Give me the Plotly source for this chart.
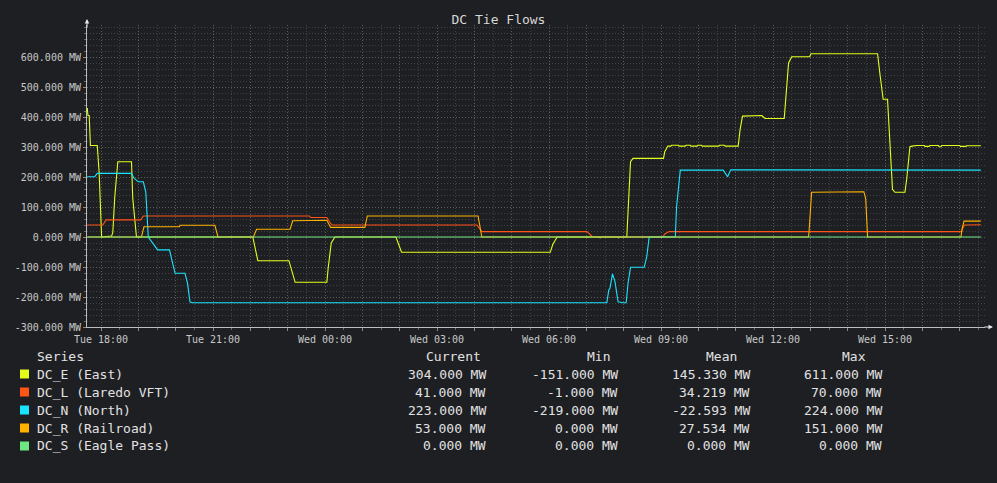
import datetime as dt

import plotly.graph_objects as go

BG = "#1e1f22"
BASE_DAY = dt.date(2024, 1, 2)  # a Tuesday

series_names = ["DC_E (East)", "DC_L (Laredo VFT)", "DC_N (North)", "DC_R (Railroad)", "DC_S (Eagle Pass)"]
series_colors = ["#e4ff1a", "#ff5516", "#1ae4ff", "#ffb300", "#6ee882"]

e_times = ["17:38", "17:39", "17:41", "17:43", "17:54", "17:57", "18:01", "18:17", "18:19", "18:22", "18:27", "18:49", "18:51", "18:57",
           "22:04", "22:09", "22:12", "23:02", "23:07", "23:12", "00:03", "00:05", "00:10", "00:16", "01:54", "01:58", "02:03", "06:02", "06:06", "06:13",
           "07:20", "07:22", "07:24", "07:50", "07:52", "07:54", "08:05", "08:11", "08:15", "09:04", "09:06", "09:11",
           "09:16", "09:17", "09:28", "09:29", "09:39", "09:40", "09:47", "09:48", "09:58", "09:59", "10:05", "10:06", "10:14", "10:15", "10:23", "10:24", "10:33", "10:34", "10:42", "10:43",
           "11:04", "11:07", "11:11", "11:42", "11:47", "12:18", "12:22", "12:25", "12:30", "12:59", "13:01", "14:48", "14:52", "14:57", "15:04", "15:08", "15:12", "15:16", "15:32", "15:35", "15:40",
           "15:43", "15:51", "16:03", "16:04", "16:11", "16:12", "16:26", "16:27", "16:30", "16:31", "17:00", "17:01", "17:10", "17:11", "17:34"]
e_values = [430, 405, 405, 305, 305, 215, 0, 3, 15, 130, 251, 251, 130, 0,
            0, -43, -79, -79, -116, -151, -151, -105, -20, 0, 0, -23, -51, -51, -25, 0,
            0, -3, 0, 0, -3, 0, 0, 251, 262, 262, 284, 303,
            303, 306, 306, 303, 303, 306, 306, 303, 303, 306, 306, 303, 303, 305, 305, 303, 303, 306, 306, 303,
            303, 357, 403, 405, 395, 395, 495, 580, 601, 601, 611, 611, 540, 459, 459, 301, 159, 149, 149, 196, 301,
            303, 305, 305, 302, 302, 305, 305, 301, 301, 305, 305, 302, 302, 304, 304]

l_times = ["17:38", "18:03", "18:08", "19:04", "19:08", "23:35", "23:37", "00:03", "00:06", "00:11", "04:04", "04:12",
           "07:01", "07:06", "07:11", "07:14", "09:03", "09:06", "09:13", "17:03", "17:05", "17:08", "17:34"]
l_values = [40, 40, 57, 57, 70, 70, 65, 65, 55, 40, 40, 18,
            18, 8, -1, 0, 0, 10, 18, 18, 30, 40, 41]

n_times = ["17:38", "17:50", "17:54", "18:49", "18:53", "19:00", "19:08", "19:12", "19:16", "19:24",
           "19:31", "19:50", "19:54", "19:59", "20:15", "20:19", "20:23", "20:26",
           "07:33", "07:36", "07:38", "07:42", "07:46", "07:51", "07:59", "08:04",
           "08:07", "08:11", "08:33", "08:37", "08:41", "09:23", "09:25", "09:31", "10:40", "10:47", "10:52", "17:34"]
n_values = [201, 201, 212, 212, 196, 184, 184, 150, 0, -21,
            -43, -43, -82, -121, -121, -154, -216, -219,
            -219, -177, -170, -123, -149, -216, -219, -219,
            -154, -101, -101, -66, 0, 0, 101, 223, 223, 201, 224, 223]

r_times = ["17:38", "19:05", "19:09", "20:06", "20:07", "21:03", "21:08", "22:05", "22:10", "23:04", "23:08",
           "00:03", "00:09", "01:04", "01:08", "04:06", "04:12", "12:57", "12:58", "13:02", "14:26", "14:29", "14:32",
           "17:02", "17:04", "17:07", "17:34"]
r_values = [0, 0, 34, 34, 39, 39, 0, 0, 26, 26, 54,
            56, 32, 32, 70, 70, 0, 0, 20, 149, 151, 126, 0,
            0, 29, 53, 53]

s_times = ["17:38", "17:34"]
s_values = [0, 0]

stat_headers = ["Current", "Min", "Mean", "Max"]
stat_current = ["304.000 MW", "41.000 MW", "223.000 MW", "53.000 MW", "0.000 MW"]
stat_min = ["-151.000 MW", "-1.000 MW", "-219.000 MW", "0.000 MW", "0.000 MW"]
stat_mean = ["145.330 MW", "34.219 MW", "-22.593 MW", "27.534 MW", "0.000 MW"]
stat_max = ["611.000 MW", "70.000 MW", "224.000 MW", "151.000 MW", "0.000 MW"]

y_tick_vals = [-300, -200, -100, 0, 100, 200, 300, 400, 500, 600]


def to_datetimes(times):
    # times run forward from Tue evening; a smaller clock time means next day
    out = []
    day = BASE_DAY
    prev = None
    for s in times:
        h, m = map(int, s.split(":"))
        t = dt.time(h, m)
        if prev is not None and t < prev:
            day += dt.timedelta(days=1)
        prev = t
        out.append(dt.datetime.combine(day, t))
    return out


# plot area in pixels, used to place the legend table under the chart
L, R, T, B = 87, 985, 25, 327


def px(x):
    return (x - L) / (R - L)


def py(y):
    return (B - y) / (B - T)


fig = go.Figure()
all_series = [(e_times, e_values), (l_times, l_values), (n_times, n_values), (r_times, r_values), (s_times, s_values)]
for (times, values), name, color in zip(all_series, series_names, series_colors):
    fig.add_trace(go.Scatter(x=to_datetimes(times), y=values, name=name, mode="lines",
                             line=dict(color=color, width=1.1), showlegend=False))

start = dt.datetime.combine(BASE_DAY, dt.time(18, 0))
hour_ticks = [start + dt.timedelta(hours=i) for i in range(24)]
hour_text = [t.strftime("%a %H:%M") if t.hour % 3 == 0 else "" for t in hour_ticks]

fig.update_layout(
    width=997, height=483,
    paper_bgcolor=BG, plot_bgcolor=BG,
    margin=dict(l=L, r=997 - R, t=T, b=483 - B),
    font=dict(family="DejaVu Sans Mono", size=10, color="#c8c8c8"),
    showlegend=False,
    title=dict(text="DC Tie Flows", x=0.5, xanchor="center", y=1 - 19 / 483, yanchor="middle",
               font=dict(size=13, color="#d8d8d8")),
    xaxis=dict(
        range=["2024-01-02 17:37:30", "2024-01-03 17:40:40"],
        tickmode="array", tickvals=hour_ticks, ticktext=hour_text,
        showgrid=True, gridcolor="#5c5c5c", griddash="1px,2px", gridwidth=1,
        showline=True, linecolor="#bdbdbd", linewidth=1, zeroline=False,
        ticks="outside", ticklen=3, tickcolor="#8a8a8a",
        minor=dict(dtick=1800000, tick0="2024-01-02 17:30", showgrid=True, gridcolor="#404145",
                   griddash="1px,2px", ticks="outside", ticklen=2, tickcolor="#6a6a6a"),
    ),
    yaxis=dict(
        range=[-300, 706.7],
        tickmode="array", tickvals=y_tick_vals, ticktext=[f"{v:.3f} MW" for v in y_tick_vals],
        showgrid=True, gridcolor="#5c5c5c", griddash="1px,2px", gridwidth=1,
        showline=True, linecolor="#bdbdbd", linewidth=1, zeroline=False,
        ticks="outside", ticklen=3, tickcolor="#8a8a8a",
        minor=dict(dtick=20, tick0=0, showgrid=True, gridcolor="#404145",
                   griddash="1px,2px", ticks="outside", ticklen=2, tickcolor="#6a6a6a"),
    ),
)

# axis arrows
fig.add_annotation(x=0, y=py(19), xref="paper", yref="paper", text="", showarrow=True,
                   ax=0, ay=10, arrowhead=2, arrowsize=0.9, arrowwidth=1, arrowcolor="#e6e6e6")
fig.add_annotation(x=px(993), y=0, xref="paper", yref="paper", text="", showarrow=True,
                   ax=-10, ay=0, arrowhead=2, arrowsize=0.9, arrowwidth=1, arrowcolor="#e6e6e6")

# legend table
legend_font = dict(family="DejaVu Sans Mono", size=13, color="#e2e2e2")
row_y = [374, 392, 410, 428, 446]
header_y = 356
value_right = [488, 620, 752, 884]
header_right = [483, 612, 739, 868]

fig.add_annotation(x=px(35), y=py(header_y), xref="paper", yref="paper", text="Series",
                   showarrow=False, xanchor="left", yanchor="middle", font=legend_font)
for hx, h in zip(header_right, stat_headers):
    fig.add_annotation(x=px(hx), y=py(header_y), xref="paper", yref="paper", text=h,
                       showarrow=False, xanchor="right", yanchor="middle", font=legend_font)

columns = [stat_current, stat_min, stat_mean, stat_max]
for i, (name, color) in enumerate(zip(series_names, series_colors)):
    yc = row_y[i]
    fig.add_shape(type="rect", xref="paper", yref="paper", x0=px(20), x1=px(29),
                  y0=py(yc + 4.5), y1=py(yc - 4.5), fillcolor=color, line=dict(width=0))
    fig.add_annotation(x=px(35), y=py(yc), xref="paper", yref="paper", text=name,
                       showarrow=False, xanchor="left", yanchor="middle", font=legend_font)
    for vx, col in zip(value_right, columns):
        fig.add_annotation(x=px(vx), y=py(yc), xref="paper", yref="paper", text=col[i],
                           showarrow=False, xanchor="right", yanchor="middle", font=legend_font)

# drop the browser's default page margin so the figure sits at the window origin
fig.write_html("out.html", config={"displayModeBar": False},
               post_script="document.body.style.margin='0';"
                           "document.body.style.background='" + BG + "';")
